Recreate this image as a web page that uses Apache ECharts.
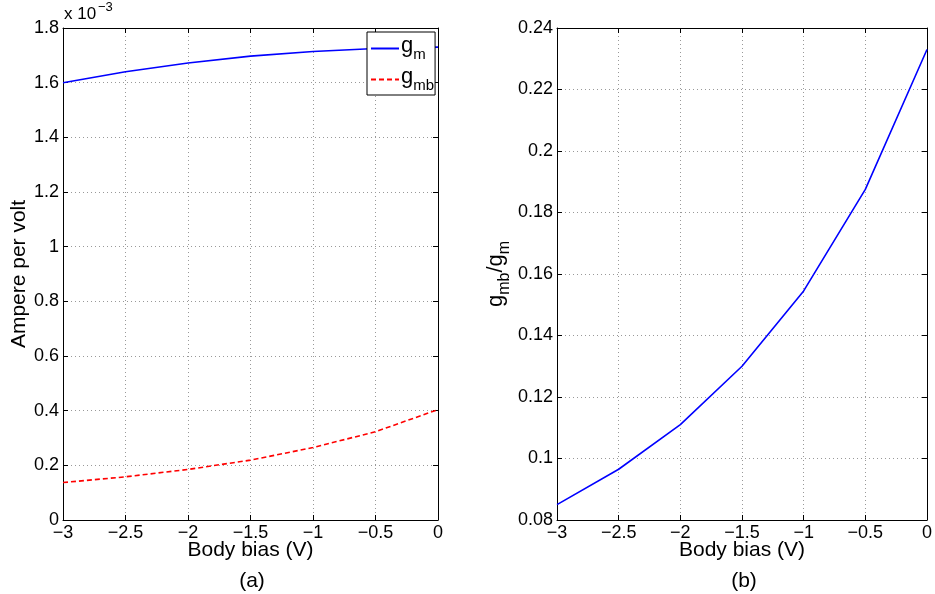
<!DOCTYPE html>
<html><head><meta charset="utf-8">
<script src="https://cdn.jsdelivr.net/npm/echarts@6/dist/echarts.min.js"></script>
<style>html,body{margin:0;padding:0;background:#fff}#c{width:935px;height:594px}</style>
</head><body><div id="c"></div>
<script>
const bodyBias = [-3, -2.5, -2, -1.5, -1, -0.5, 0];
const gm = [1.600, 1.640, 1.672, 1.697, 1.714, 1.725, 1.730];      // x 10^-3 A/V
const gmb = [0.137, 0.158, 0.185, 0.219, 0.265, 0.323, 0.404];     // x 10^-3 A/V
const ratio = [0.085, 0.0965, 0.111, 0.130, 0.1545, 0.1875, 0.233];
const xTicks = {min: -3, max: 0, interval: 0.5};

const FONT = '"Liberation Sans", Arial, Helvetica, sans-serif';
const fmtX = v => (v === 0 ? '0' : String(v).replace('-', '\u2212'));
const fmtY = v => String(+v.toFixed(4));

function xAxisBase(gi, show) {
  return {
    type: 'value', gridIndex: gi, min: xTicks.min, max: xTicks.max, interval: xTicks.interval,
    position: show ? 'bottom' : 'top',
    axisLine: {show: true, onZero: false, lineStyle: {color: '#000', width: 1}},
    axisTick: {show: true, inside: true, length: 5, lineStyle: {color: '#000'}},
    axisLabel: {show: show, color: '#000', fontFamily: FONT, fontSize: 18, margin: 4, formatter: fmtX},
    splitLine: {show: show, lineStyle: {color: '#999', type: [1, 3], width: 1}},
    name: show ? 'Body bias (V)' : '', nameLocation: 'middle', nameGap: 20, nameMoveOverlap: false,
    nameTextStyle: {color: '#000', fontFamily: FONT, fontSize: 21}
  };
}
function yAxisBase(gi, show, min, max, interval) {
  return {
    type: 'value', gridIndex: gi, min: min, max: max, interval: interval,
    position: show ? 'left' : 'right',
    axisLine: {show: true, onZero: false, lineStyle: {color: '#000', width: 1}},
    axisTick: {show: true, inside: true, length: 5, lineStyle: {color: '#000'}},
    axisLabel: {show: show, color: '#000', fontFamily: FONT, fontSize: 18, margin: 4, formatter: fmtY},
    splitLine: {show: show, lineStyle: {color: '#999', type: [1, 3], width: 1}},
    nameMoveOverlap: false
  };
}
const subRich = (big, small, lift) => ({
  g: {fontFamily: FONT, fontSize: big, color: '#000', verticalAlign: 'bottom', padding: [0, 0, lift, 0]},
  s: {fontFamily: FONT, fontSize: small, color: '#000', verticalAlign: 'bottom'}
});

const chart = echarts.init(document.getElementById('c'), null, {renderer: 'canvas'});
const yL = yAxisBase(0, true, 0, 1.8, 0.2);
yL.name = 'Ampere per volt'; yL.nameLocation = 'middle'; yL.nameGap = 33;
yL.nameTextStyle = {color: '#000', fontFamily: FONT, fontSize: 21};
const yR = yAxisBase(1, true, 0.08, 0.24, 0.02);
yR.name = '{g|g}{s|mb}{g|/g}{s|m}'; yR.nameLocation = 'middle'; yR.nameGap = 44;
yR.nameTextStyle = {color: '#000', fontFamily: FONT, fontSize: 22, rich: subRich(22, 16, 6)};

chart.setOption({
  animation: false,
  backgroundColor: '#fff',
  grid: [
    {left: 63, right: 497, top: 28, bottom: 74},
    {left: 557, right: 4, top: 28, bottom: 74}
  ],
  xAxis: [xAxisBase(0, true), xAxisBase(0, false), xAxisBase(1, true), xAxisBase(1, false)],
  yAxis: [yL, yAxisBase(0, false, 0, 1.8, 0.2), yR, yAxisBase(1, false, 0.08, 0.24, 0.02)],
  legend: {
    left: 367, top: 32, orient: 'vertical', itemWidth: 28, itemHeight: 10, itemGap: 4,
    padding: [3, 1, 2, 3],
    borderColor: '#000', borderWidth: 1, backgroundColor: '#fff',
    itemStyle: {color: 'rgba(0,0,0,0)', borderColor: 'rgba(0,0,0,0)', borderWidth: 0},
    data: ['gm', 'gmb'],
    formatter: n => n === 'gm' ? '{g|g}{s|m}' : '{g|g}{s|mb}',
    textStyle: {color: '#000', fontFamily: FONT, fontSize: 22, padding: [0, 0, 0, -3], rich: subRich(22, 15, 5)}
  },
  graphic: [
    {type: 'text', x: 64, y: 23, style: {text: 'x 10', fill: '#000', font: '17px ' + FONT, verticalAlign: 'bottom'}},
    {type: 'text', x: 98, y: 14, style: {text: '\u22123', fill: '#000', font: '13px ' + FONT, verticalAlign: 'bottom'}},
    {type: 'text', x: 252, y: 581, style: {text: '(a)', fill: '#000', font: '21px ' + FONT, align: 'center', verticalAlign: 'middle'}},
    {type: 'text', x: 744, y: 581, style: {text: '(b)', fill: '#000', font: '21px ' + FONT, align: 'center', verticalAlign: 'middle'}}
  ],
  series: [
    {name: 'gm', type: 'line', xAxisIndex: 0, yAxisIndex: 0, showSymbol: false, symbol: 'none',
     data: bodyBias.map((x, i) => [x, gm[i]]), lineStyle: {color: '#0000ff', width: 1.6}, itemStyle: {color: '#0000ff'}},
    {name: 'gmb', type: 'line', xAxisIndex: 0, yAxisIndex: 0, showSymbol: false, symbol: 'none',
     data: bodyBias.map((x, i) => [x, gmb[i]]), lineStyle: {color: '#ff0000', width: 1.6, type: [5, 3]}, itemStyle: {color: '#ff0000'}},
    {name: 'ratio', type: 'line', xAxisIndex: 2, yAxisIndex: 2, showSymbol: false, symbol: 'none',
     data: bodyBias.map((x, i) => [x, ratio[i]]), lineStyle: {color: '#0000ff', width: 1.6}, itemStyle: {color: '#0000ff'}}
  ]
});
</script></body></html>
